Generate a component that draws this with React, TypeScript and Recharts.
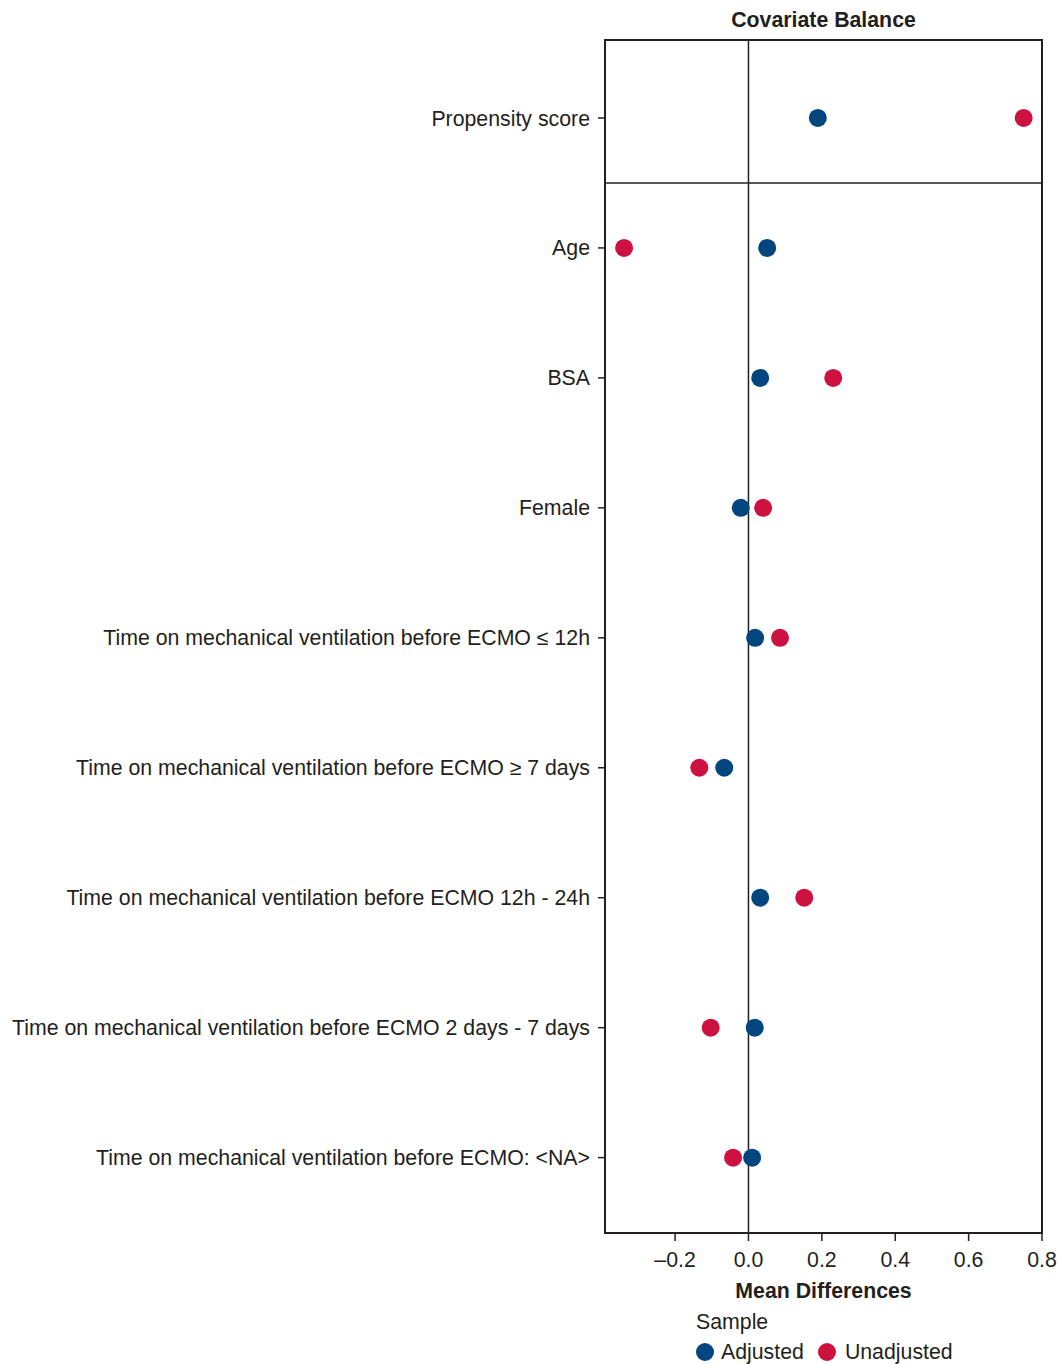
import React from 'react'
import {
  ScatterChart, Scatter, XAxis, YAxis, ReferenceLine, ReferenceArea, Legend,
} from 'recharts'

const categories = [
  'Propensity score',
  'Age',
  'BSA',
  'Female',
  'Time on mechanical ventilation before ECMO ≤ 12h',
  'Time on mechanical ventilation before ECMO ≥ 7 days',
  'Time on mechanical ventilation before ECMO 12h - 24h',
  'Time on mechanical ventilation before ECMO 2 days - 7 days',
  'Time on mechanical ventilation before ECMO: <NA>',
]
const adjusted = [0.189, 0.051, 0.032, -0.021, 0.018, -0.066, 0.032, 0.017, 0.01]
const unadjusted = [0.75, -0.339, 0.231, 0.04, 0.086, -0.134, 0.152, -0.103, -0.042]
const xTicks = [-0.2, 0, 0.2, 0.4, 0.6, 0.8]

const BLUE = '#03457f'
const RED = '#cd1241'
const INK = '#231f20'
const FONT = '"Liberation Sans", Arial, Helvetica, sans-serif'
const FS = 21.3

const adjustedPoints = categories.map((c, i) => ({ idx: i + 1, value: adjusted[i], name: c }))
const unadjustedPoints = categories.map((c, i) => ({ idx: i + 1, value: unadjusted[i], name: c }))

const dot = (color: string) => (p: any) => <circle cx={p.cx} cy={p.cy} r={9} fill={color} />

const fmt = (v: number) => (v < 0 ? '–' + Math.abs(v).toFixed(1) : v.toFixed(1))

const LegendBox = () => (
  <div style={{ fontFamily: FONT, color: INK, fontSize: FS, position: 'relative', height: 76 }}>
    <div style={{ position: 'absolute', left: 696, top: 22, lineHeight: '24px' }}>Sample</div>
    <div style={{ position: 'absolute', left: 696, top: 52, lineHeight: '24px', display: 'flex', alignItems: 'center', whiteSpace: 'nowrap' }}>
      <span style={{ width: 18, height: 18, borderRadius: 9, background: BLUE, display: 'inline-block' }} />
      <span style={{ marginLeft: 7 }}>Adjusted</span>
      <span style={{ width: 18, height: 18, borderRadius: 9, background: RED, display: 'inline-block', marginLeft: 14 }} />
      <span style={{ marginLeft: 9 }}>Unadjusted</span>
    </div>
  </div>
)

const App = () => {
  return (
    <div style={{ position: 'relative', width: 1062, height: 1364, background: '#fff', fontFamily: FONT }}>
      <style>{'body{margin:0;overflow:hidden}'}</style>
      <div style={{ position: 'absolute', left: 605, width: 437, top: 8, textAlign: 'center', fontWeight: 'bold', fontSize: FS, lineHeight: '24px', color: INK }}>
        Covariate Balance
      </div>
      <div style={{ position: 'absolute', left: 605, width: 437, top: 1279, textAlign: 'center', fontWeight: 'bold', fontSize: FS, lineHeight: '24px', color: INK }}>
        Mean Differences
      </div>
      <ScatterChart width={1062} height={1364} margin={{ top: 40, right: 20, bottom: 15, left: 0 }}>
        <XAxis
          type="number"
          dataKey="value"
          domain={[-0.391, 0.8]}
          ticks={xTicks}
          tickFormatter={fmt}
          allowDataOverflow
          height={40}
          tickSize={8}
          tickMargin={11}
          axisLine={{ stroke: INK, strokeWidth: 2 }}
          tickLine={{ stroke: INK, strokeWidth: 1.5 }}
          tick={{ fill: INK, fontSize: FS, fontFamily: FONT }}
        />
        <YAxis
          type="number"
          dataKey="idx"
          domain={[0.4, 9.58]}
          reversed
          ticks={[1, 2, 3, 4, 5, 6, 7, 8, 9]}
          interval={0}
          tickFormatter={(v: number) => categories[v - 1]}
          allowDataOverflow
          width={605}
          tickSize={7}
          tickMargin={8}
          axisLine={{ stroke: INK, strokeWidth: 2 }}
          tickLine={{ stroke: INK, strokeWidth: 1.5 }}
          tick={{ fill: INK, fontSize: FS, fontFamily: FONT }}
        />
        <ReferenceArea x1={-0.391} x2={0.8} y1={0.4} y2={9.58} fill="none" stroke={INK} strokeWidth={2} />
        <ReferenceLine x={0} stroke={INK} strokeWidth={1.5} />
        <ReferenceLine y={1.5} stroke={INK} strokeWidth={1.5} />
        <Scatter name="Unadjusted" data={unadjustedPoints} fill={RED} shape={dot(RED)} isAnimationActive={false} />
        <Scatter name="Adjusted" data={adjustedPoints} fill={BLUE} shape={dot(BLUE)} isAnimationActive={false} />
        <Legend
          content={() => <LegendBox />}
          verticalAlign="bottom"
          wrapperStyle={{ left: 0, width: 1062, bottom: 0 }}
        />
      </ScatterChart>
    </div>
  )
}

export default App
